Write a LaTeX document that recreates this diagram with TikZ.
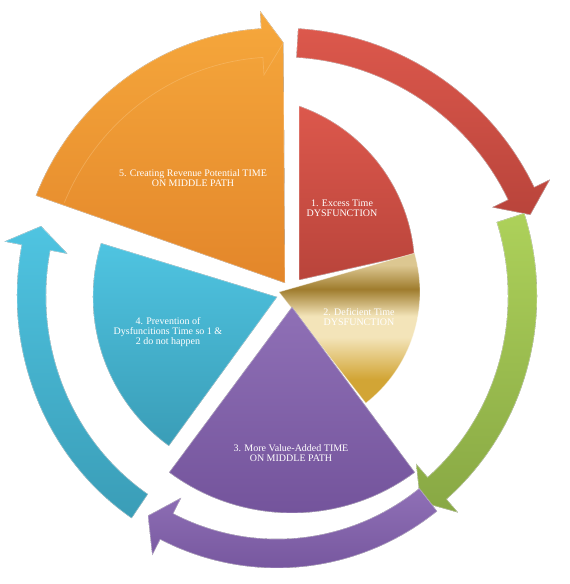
\documentclass[tikz,border=0pt]{standalone}
\usepackage{fontspec}
\setmainfont{Liberation Serif}
\usepackage{tikz}
\usepackage{xcolor}

% colours of the five stages
\definecolor{orangeA}{HTML}{F6A83C}
\definecolor{orangeB}{HTML}{E3862A}
\definecolor{redA}{HTML}{DC584C}
\definecolor{redB}{HTML}{B9443B}
\definecolor{goldA}{HTML}{DCC791}
\definecolor{goldB}{HTML}{9F7C2D}
\definecolor{goldC}{HTML}{F3E4B9}
\definecolor{goldD}{HTML}{D2A535}
\definecolor{purpleA}{HTML}{8F70B6}
\definecolor{purpleB}{HTML}{72529A}
\definecolor{cyanA}{HTML}{4FC4E1}
\definecolor{cyanB}{HTML}{3A9DB7}
\definecolor{greenA}{HTML}{ADD15A}
\definecolor{greenB}{HTML}{88A844}

\pgfdeclareverticalshading{goldshade}{100bp}{color(0bp)=(goldD); color(33bp)=(goldD); color(47bp)=(goldC); color(54bp)=(goldC); color(63bp)=(goldB); color(71bp)=(goldA); color(100bp)=(goldA)}

\tikzset{
  slicetext/.style={text=white, align=center, font=\fontsize{10}{10}\selectfont},
  bevel/.style={draw=white, draw opacity=0.45, line width=0.8pt, line join=round}
}

\begin{document}
\begin{tikzpicture}[x=1pt,y=1pt]
  \useasboundingbox (0,0) rectangle (570,584);

  % Ring arrows: colours, centre, mid radii, start angle, tip angle
  \foreach \ca/\cb/\cx/\cy/\rx/\ry/\sa/\ta in {
      redA/redB/281/275/266.5/266.5/86.5/20.7,
      greenA/greenB/277/288/245.5/253.5/18/-54.3,
      purpleA/purpleB/277/284/245.5/253.5/-52/-121.7,
      cyanA/cyanB/277/288/245.5/253.5/236/164} {
    \pgfmathsetmacro{\hb}{\ta+5}
    \pgfmathsetmacro{\rxo}{\rx+14.5}
    \pgfmathsetmacro{\ryo}{\ry+14.5}
    \pgfmathsetmacro{\rxi}{\rx-14.5}
    \pgfmathsetmacro{\ryi}{\ry-14.5}
    \pgfmathsetmacro{\rxh}{\rx+32}
    \pgfmathsetmacro{\ryh}{\ry+32}
    \pgfmathsetmacro{\rxl}{\rx-32}
    \pgfmathsetmacro{\ryl}{\ry-32}
    \begin{scope}[shift={(\cx,\cy)}]
      \fill[top color=\ca, bottom color=\cb, bevel] (\sa:\rxo\space and \ryo)
        arc[start angle=\sa, end angle=\hb, x radius=\rxo, y radius=\ryo]
        -- (\hb:\rxh\space and \ryh) -- (\ta:\rx\space and \ry)
        -- (\hb:\rxl\space and \ryl) -- (\hb:\rxi\space and \ryi)
        arc[start angle=\hb, end angle=\sa, x radius=\rxi, y radius=\ryi] -- cycle;
    \end{scope}
  }

  % Stage 5 slice, merged with its own arrow
  \coordinate (o5) at (285,301);
  \begin{scope}[shift={(277,288)}]
    \fill[top color=orangeA, bottom color=orangeB, bevel] (o5) -- (158:260 and 268)
      arc[start angle=158, end angle=93.5, x radius=260, y radius=268]
      -- (93.5:277.5 and 285.5) -- (88.5:245.5 and 253.5) -- cycle;
    \draw[orangeA!60!white, line width=0.7pt, opacity=0.4] (157:231 and 239)
      arc[start angle=157, end angle=93.5, x radius=231, y radius=239]
      -- (93.5:213.5 and 221.5) -- (88.5:245.5 and 253.5);
  \end{scope}

  % Stage 1
  \coordinate (o1) at (299,304);
  \fill[top color=redA, bottom color=redB, bevel] (o1) -- (299,478)
    arc[start angle=70.7, end angle=5, radius=173] -- cycle;
  % Stage 2
  \coordinate (o2) at (279,292);
  \shade[shading=goldshade, bevel] (o2) -- ++(16:141)
    arc[start angle=16, end angle=-52, radius=141] -- cycle;
  % Stage 4
  \coordinate (o4) at (277,287);
  \fill[top color=cyanA, bottom color=cyanB, bevel] (o4) -- ++(163:184)
    arc[start angle=163, end angle=234, radius=184] -- cycle;
  % Stage 3
  \coordinate (o3) at (292,277);
  \fill[top color=purpleA, bottom color=purpleB, bevel] (o3) -- ++(-53.4:206)
    arc[start angle=-53.4, end angle=-126.6, radius=206] -- cycle;

  % Labels
  \node[slicetext] (t5) at (193,406) {5. Creating Revenue Potential TIME\\ON MIDDLE PATH};
  \node[slicetext] (t1) at (342,376) {1. Excess Time\\DYSFUNCTION};
  \node[slicetext] (t2) at (359,267) {2. Deficient Time\\DYSFUNCTION};
  \node[slicetext] (t4) at (168,252) {4. Prevention of\\Dysfuncitions Time so 1 \&\\2 do not happen};
  \node[slicetext] (t3) at (291,131) {3. More Value-Added TIME\\ON MIDDLE PATH};
\end{tikzpicture}
\end{document}
